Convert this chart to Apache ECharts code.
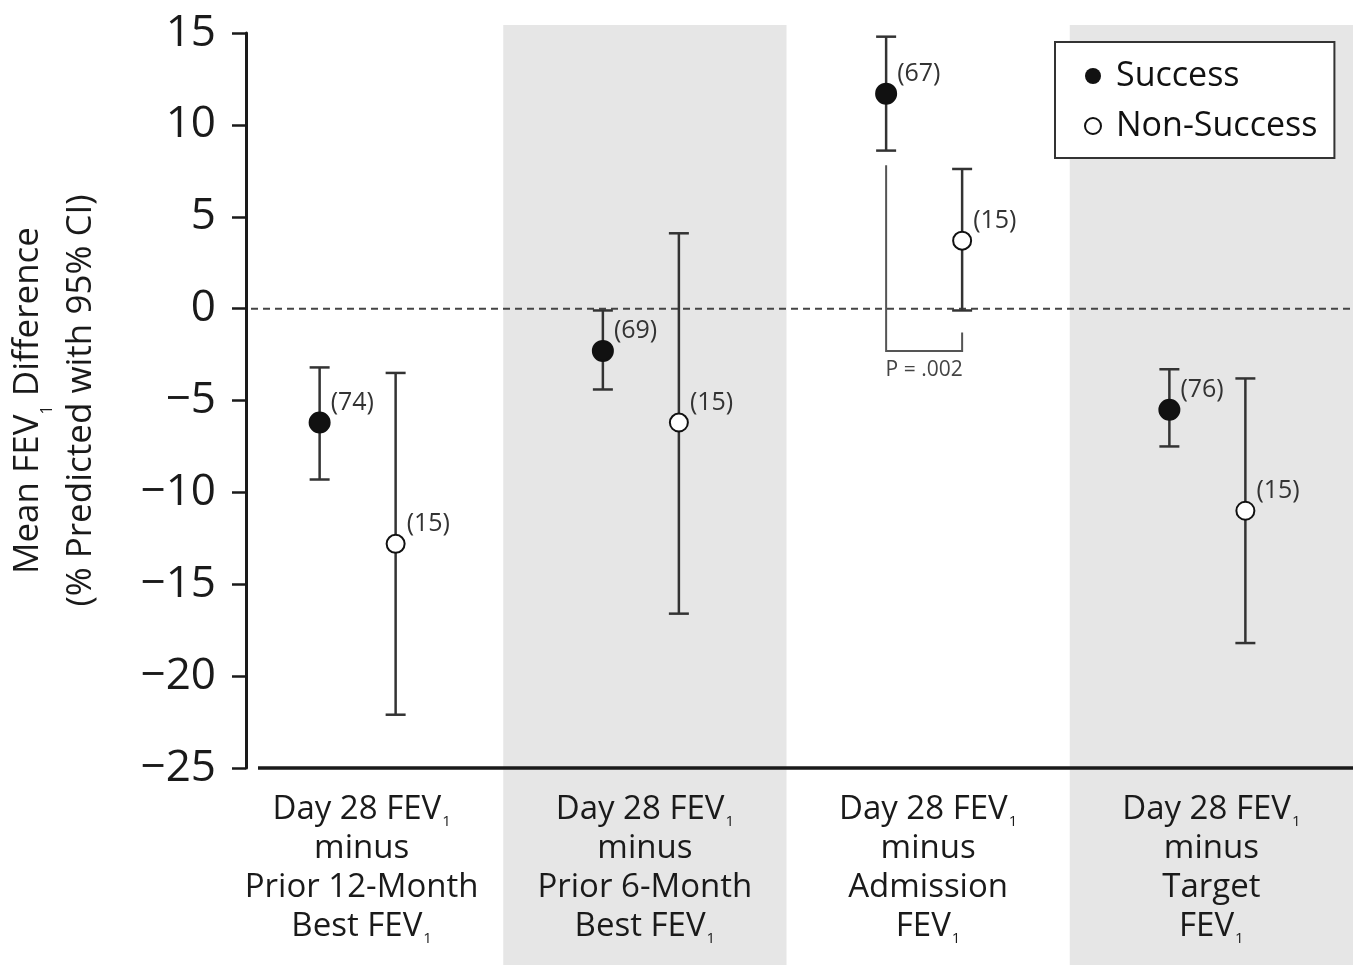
<!DOCTYPE html>
<html><head><meta charset="utf-8">
<script src="https://cdn.jsdelivr.net/npm/echarts@6/dist/echarts.min.js"></script>
<style>html,body{margin:0;padding:0;background:#fff}#c{width:1358px;height:965px}</style>
</head><body><div id="c"></div>
<script>
// ---- data ----
const categories = [
  'Day 28 FEV₁\nminus\nPrior 12-Month\nBest FEV₁',
  'Day 28 FEV₁\nminus\nPrior 6-Month\nBest FEV₁',
  'Day 28 FEV₁\nminus\nAdmission\nFEV₁',
  'Day 28 FEV₁\nminus\nTarget\nFEV₁'
];
const yTicks = { min: -25, max: 15, interval: 5 };
const successMean = [-6.2, -2.3, 11.7, -5.5];
const successLow  = [-9.3, -4.4, 8.6, -7.5];
const successHigh = [-3.2, -0.1, 14.8, -3.3];
const successN    = [74, 69, 67, 76];
const nonMean = [-12.8, -6.2, 3.7, -11.0];
const nonLow  = [-22.1, -16.6, -0.1, -18.2];
const nonHigh = [-3.5, 4.1, 7.6, -3.8];
const nonN    = [15, 15, 15, 15];
const shadedCategories = [1, 3];
const pCategory = 2;
const pBracketValues = [7.8, -2.3, -1.3]; // left top, bottom, right top
const pText = 'P = .002';

// ---- style ----
const FONT = '"Open Sans", "Noto Sans", sans-serif';
const INK = '#1a1a1a';
const Y_AXIS_SHIFT = 26;
const DX_S = -42, DX_N = 34;

function catFormatter(v) {
  return v.split('\n').map(l => l.indexOf('₁') >= 0
    ? '{m|' + l.replace('₁', '') + '}{sub|1}'
    : '{m|' + l + '}').join('\n');
}

function errorSeries(name, means, lows, highs, ns, dx, filled) {
  return {
    type: 'custom', name, z: 3,
    data: means.map((m, i) => [i, m, lows[i], highs[i], ns[i]]),
    encode: { x: 0, y: [1, 2, 3] },
    renderItem(params, api) {
      const i = api.value(0);
      const c = api.coord([i, api.value(1)]);
      const lo = api.coord([i, api.value(2)]);
      const hi = api.coord([i, api.value(3)]);
      const x = c[0] + dx;
      const cap = 10;
      const ls = { stroke: '#333', lineWidth: 2.5 };
      return { type: 'group', children: [
        { type: 'line', shape: { x1: x, y1: hi[1], x2: x, y2: lo[1] }, style: ls },
        { type: 'line', shape: { x1: x - cap, y1: hi[1], x2: x + cap, y2: hi[1] }, style: ls },
        { type: 'line', shape: { x1: x - cap, y1: lo[1], x2: x + cap, y2: lo[1] }, style: ls },
        { type: 'circle', shape: { cx: x, cy: c[1], r: filled ? 10 : 9 },
          style: { fill: filled ? '#111' : '#fff', stroke: '#111', lineWidth: 2 } },
        { type: 'text', x: x + 11, y: c[1] - 20,
          style: { text: '(' + api.value(4) + ')', font: '25px ' + FONT, fill: '#333',
                   align: 'left', verticalAlign: 'middle' } }
      ]};
    }
  };
}

const chart = echarts.init(document.getElementById('c'));
chart.setOption({
  backgroundColor: '#fff',
  animation: false,
  grid: { left: 220, right: 5, top: 33, bottom: 197, outerBoundsMode: 'none', containLabel: false },
  legend: {
    left: 1055, top: 42, orient: 'vertical',
    padding: [17, 17, 15, 29], itemGap: 16, itemWidth: 16, itemHeight: 16,
    borderColor: '#333', borderWidth: 2, backgroundColor: '#fff',
    textStyle: { fontSize: 34, fontFamily: FONT, color: '#111', padding: [0, 0, 0, 10] },
    data: [
      { name: 'Success', icon: 'circle', itemStyle: { color: '#111', borderWidth: 0 } },
      { name: 'Non-Success', icon: 'circle', itemStyle: { color: '#fff', borderColor: '#111', borderWidth: 2 } }
    ]
  },
  xAxis: {
    type: 'category', data: categories,
    axisLine: { show: false }, axisTick: { show: false }, splitLine: { show: false },
    axisLabel: {
      interval: 0, margin: 22, formatter: catFormatter,
      rich: {
        m: { fontSize: 33, lineHeight: 39, fontFamily: FONT, color: INK },
        sub: { fontSize: 15, lineHeight: 39, fontFamily: FONT, color: INK, verticalAlign: 'bottom', padding: [0, 0, 0, 1] }
      }
    }
  },
  yAxis: {
    type: 'value', min: yTicks.min, max: yTicks.max, interval: yTicks.interval, offset: -Y_AXIS_SHIFT,
    axisLine: { show: true, lineStyle: { color: INK, width: 3 } },
    axisTick: { show: true, length: 14, lineStyle: { color: INK, width: 2.5 } },
    splitLine: { show: false },
    axisLabel: { fontSize: 44, fontFamily: FONT, color: INK, margin: 30,
      formatter: v => String(v).replace('-', '\u2212') },
    name: '{t|Mean FEV}{s|1}{t| Difference}\n{t|(% Predicted with 95% CI)}',
    nameLocation: 'middle', nameRotate: 90, nameGap: 138,
    nameTextStyle: {
      rich: {
        t: { fontSize: 35, lineHeight: 53, fontFamily: FONT, color: INK },
        s: { fontSize: 16, lineHeight: 53, fontFamily: FONT, color: INK, verticalAlign: 'bottom' }
      }
    }
  },
  series: [
    {
      type: 'custom', z: -1, silent: true,
      data: [[0, 0]], encode: { x: 0, y: 1 },
      renderItem(params, api) {
        const cs = params.coordSys;
        const bw = api.size([1, 0])[0];
        const H = api.getHeight();
        const children = [];
        shadedCategories.forEach(i => {
          const cx = api.coord([i, 0])[0];
          children.push({ type: 'rect', shape: { x: cx - bw / 2, y: cs.y - 8, width: bw, height: H - cs.y + 8 },
            style: { fill: '#e6e6e6' } });
        });
        const ax = cs.x + Y_AXIS_SHIFT;
        const y0 = api.coord([0, 0])[1];
        const yb = cs.y + cs.height;
        children.push({ type: 'line', shape: { x1: ax + 5, y1: y0, x2: cs.x + cs.width, y2: y0 },
          style: { stroke: '#444', lineWidth: 2, lineDash: [7, 5] } });
        children.push({ type: 'line', shape: { x1: ax + 12, y1: yb, x2: cs.x + cs.width, y2: yb },
          style: { stroke: INK, lineWidth: 3.5 } });
        return { type: 'group', children };
      }
    },
    errorSeries('Success', successMean, successLow, successHigh, successN, DX_S, true),
    errorSeries('Non-Success', nonMean, nonLow, nonHigh, nonN, DX_N, false),
    {
      type: 'custom', z: 2, silent: true,
      data: [[pCategory].concat(pBracketValues)],
      encode: { x: 0, y: [1, 2, 3] },
      renderItem(params, api) {
        const i = api.value(0);
        const lt = api.coord([i, api.value(1)]);
        const bt = api.coord([i, api.value(2)]);
        const rt = api.coord([i, api.value(3)]);
        const xl = lt[0] + DX_S, xr = lt[0] + DX_N;
        return { type: 'group', children: [
          { type: 'polyline', shape: { points: [[xl, lt[1]], [xl, bt[1]], [xr, bt[1]], [xr, rt[1]]] },
            style: { stroke: '#555', lineWidth: 2, fill: null } },
          { type: 'text', x: (xl + xr) / 2, y: bt[1] + 19,
            style: { text: pText, font: '21px ' + FONT, fill: '#444', align: 'center', verticalAlign: 'middle' } }
        ]};
      }
    }
  ]
});
</script></body></html>
